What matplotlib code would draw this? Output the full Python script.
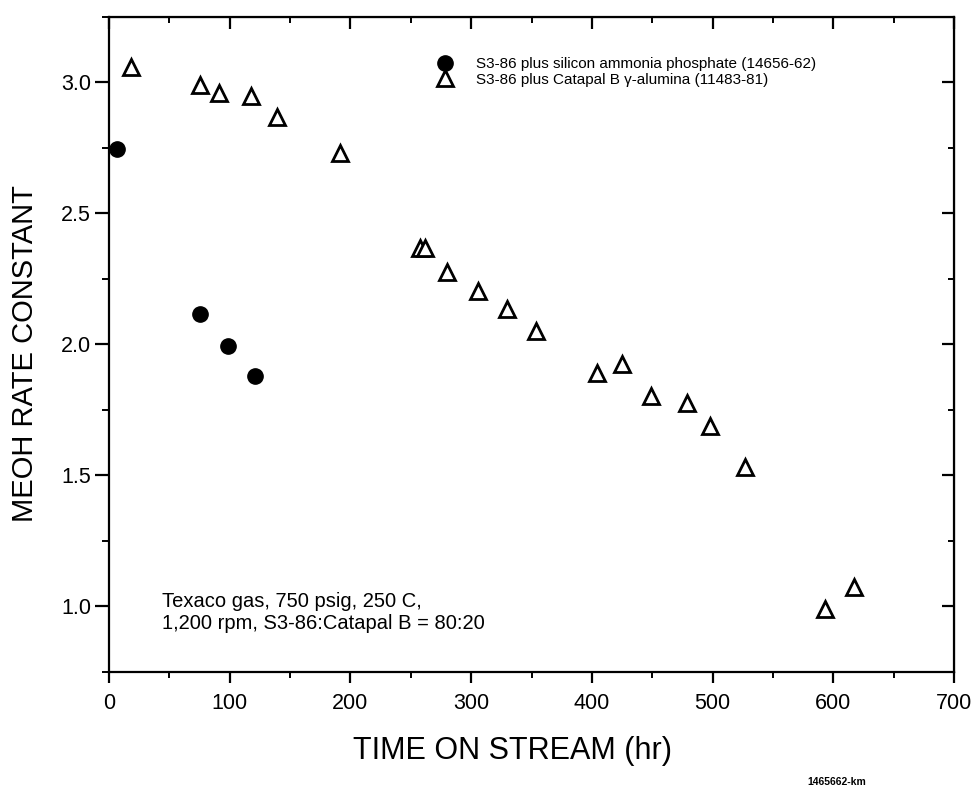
import numpy as np
import matplotlib
matplotlib.use("Agg")
import matplotlib.pyplot as plt

plt.rcParams['font.family'] = ['Liberation Sans', 'DejaVu Sans']

# S3-86 plus silicon ammonia phosphate
t_sap = [6.6, 75, 98.5, 121]
k_sap = [2.745, 2.115, 1.996, 1.878]

# S3-86 plus Catapal B gamma-alumina
t_cat = [18, 75, 91, 118, 139, 191, 258, 262, 280, 306, 330, 354,
         404, 425, 449, 479, 498, 527, 593, 617]
k_cat = [3.06, 2.99, 2.96, 2.95, 2.87, 2.73, 2.37, 2.37, 2.275, 2.205, 2.137, 2.05,
         1.89, 1.927, 1.805, 1.775, 1.687, 1.534, 0.992, 1.076]

lbl_sap = 'S3-86 plus silicon ammonia phosphate (14656-62)'
lbl_cat = 'S3-86 plus Catapal B \u03b3-alumina (11483-81)'

fig = plt.figure(figsize=(9.75, 7.89), dpi=100)
ax = fig.add_axes([0.1118, 0.1483, 0.8667, 0.8302])

ax.plot(t_sap, k_sap, 'o', ms=11, color='black', ls='none', label=lbl_sap, clip_on=False)
ax.plot(t_cat, k_cat, '^', ms=11, mfc='white', mec='black', mew=2, ls='none', label=lbl_cat)

ax.set_xlim(0, 700)
ax.set_ylim(0.75, 3.25)
ax.set_xticks(np.arange(0, 701, 100))
ax.set_xticks(np.arange(0, 701, 50), minor=True)
ax.set_yticks([1.0, 1.5, 2.0, 2.5, 3.0])
ax.set_yticks(np.arange(0.75, 3.26, 0.25), minor=True)
ax.set_yticklabels(['1.0', '1.5', '2.0', '2.5', '3.0'])

for s in ax.spines.values():
    s.set_linewidth(1.6)
ax.tick_params(axis='y', which='major', direction='out', length=10, width=1.6, labelsize=15.5, pad=3)
ax.tick_params(axis='y', which='minor', direction='out', length=5, width=1.4)
ax.tick_params(axis='x', which='major', direction='out', length=8, width=1.6, labelsize=15.5, pad=7)
ax.tick_params(axis='x', which='minor', direction='out', length=4.5, width=1.4)

# inward ticks on top and right
top = ax.secondary_xaxis('top')
top.set_xticks(np.arange(0, 701, 100))
top.set_xticks(np.arange(0, 701, 50), minor=True)
top.tick_params(which='major', direction='in', length=8.5, width=1.6, labeltop=False)
top.tick_params(which='minor', direction='in', length=4.5, width=1.4)
right = ax.secondary_yaxis('right')
right.set_yticks([1.0, 1.5, 2.0, 2.5, 3.0])
right.set_yticks(np.arange(0.75, 3.26, 0.25), minor=True)
right.tick_params(which='major', direction='in', length=8.5, width=1.6, labelright=False)
right.tick_params(which='minor', direction='in', length=4.5, width=1.4)

ax.set_xlabel('TIME ON STREAM (hr)', fontsize=22)
ax.xaxis.set_label_coords(0.478, -0.098)
ax.set_ylabel('MEOH RATE CONSTANT', fontsize=21)
ax.yaxis.set_label_coords(-0.083, 0.4855)

ax.legend(loc='upper left', bbox_to_anchor=(0.379, 0.948), frameon=False,
          fontsize=11, handletextpad=1.45, labelspacing=0.1, handlelength=1.2,
          borderaxespad=0)

ax.text(0.063, 0.0905, 'Texaco gas, 750 psig, 250 C,\n1,200 rpm, S3-86:Catapal B = 80:20',
        transform=ax.transAxes, fontsize=14.5, linespacing=1.2, va='center')

fig.text(0.858, 0.003, '1465662-km', fontsize=7.5, fontweight='bold', ha='center', va='bottom')

fig.savefig('out.png', dpi=100)
